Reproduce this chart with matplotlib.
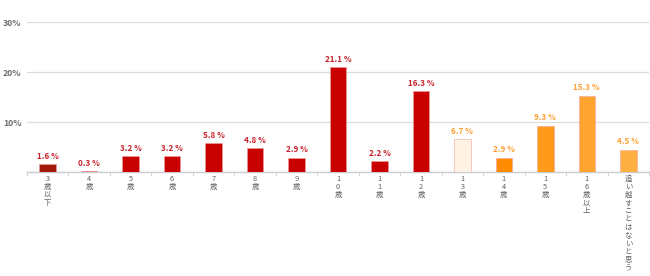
import numpy as np
import matplotlib
matplotlib.use('Agg')
import matplotlib.pyplot as plt

plt.rcParams['font.family'] = ['Noto Sans CJK JP', 'DejaVu Sans']

categories = ['3歳以下', '4歳', '5歳', '6歳', '7歳', '8歳', '9歳', '10歳',
              '11歳', '12歳', '13歳', '14歳', '15歳', '16歳以上',
              '追い越すことはないと思う']
values = [1.6, 0.3, 3.2, 3.2, 5.8, 4.8, 2.9, 21.1, 2.2, 16.3, 6.7, 2.9, 9.3, 15.3, 4.5]
bar_colors = ['#A31A0A'] + ['#C80000'] * 9 + ['#FFF3E3', '#FF8C00', '#FF9A1A', '#FFA42E', '#FFB043']
label_colors = ['#C8202A'] * 10 + ['#FFA030'] * 5
yticks = [0, 10, 20, 30]
ytick_labels = ['', '10%', '20%', '30%']

fig = plt.figure(figsize=(6.5, 2.76), dpi=100)
ax = fig.add_axes([27 / 650, 104 / 276, 622 / 650, 150 / 276])

x = np.arange(len(categories))
ax.bar(x, values, width=0.4, color=bar_colors, edgecolor='#F4A0A0', linewidth=0.4, zorder=3)

for xi, v, c in zip(x, values, label_colors):
    ax.text(xi, v + 0.6, f'{v:.1f} %', ha='center', va='bottom', fontsize=5.8,
            fontweight='bold', color=c, zorder=4)

ax.set_xlim(-0.5, len(categories) - 0.5)
ax.set_ylim(0, 30)
ax.set_yticks(yticks)
ax.set_yticklabels(ytick_labels, fontsize=6.2, fontweight='bold', color='#6E6E6E')
ax.yaxis.grid(True, color='#DDDDDD', linewidth=0.9, zorder=0)
ax.tick_params(axis='y', length=0, pad=4)

# vertical stacked labels
ax.set_xticks(x)
ax.set_xticklabels(['\n'.join(c) for c in categories], fontsize=5.3, color='#606060',
                   linespacing=1.02, va='top')
ax.tick_params(axis='x', length=0, pad=2)
ax.set_xticks(np.arange(len(categories) + 1) - 0.5, minor=True)
ax.tick_params(axis='x', which='minor', length=3, color='#CCCCCC', width=0.6)

for s in ['top', 'right', 'left']:
    ax.spines[s].set_visible(False)
ax.spines['bottom'].set_color('#C8CDD4')
ax.spines['bottom'].set_linewidth(1)

fig.savefig('out.png', dpi=100)
